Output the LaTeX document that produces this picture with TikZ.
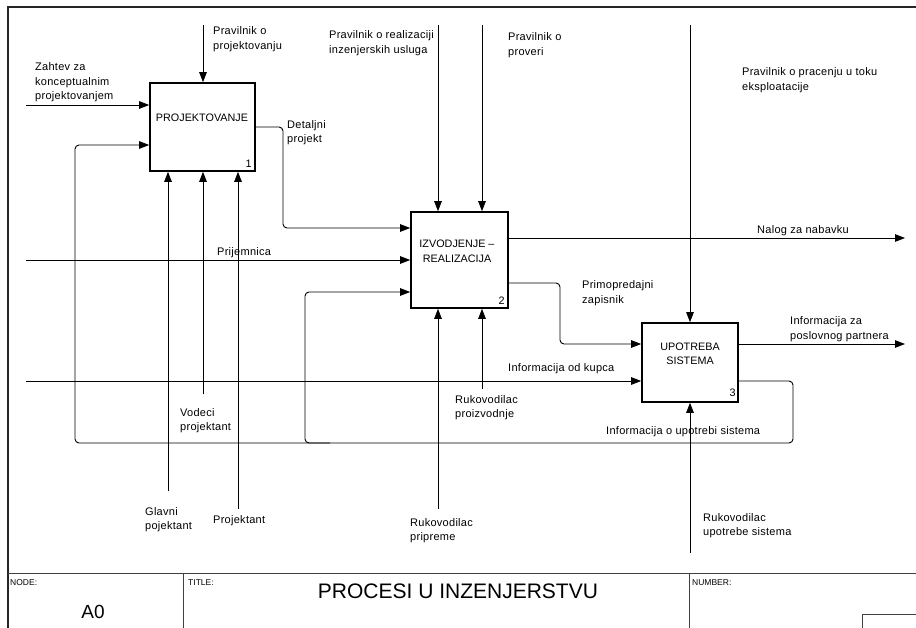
\documentclass[tikz,border=0pt]{standalone}
\usepackage{fontspec}
\setmainfont{Liberation Sans}
\newfontfamily\labelfont[LetterSpace=2.5]{Liberation Sans}
\usetikzlibrary{arrows.meta}
\begin{document}
\begin{tikzpicture}[x=1pt,y=-1pt,
  flow/.style={line width=0.9pt, rounded corners=4pt},
  inarrow/.style={flow, -{Triangle[length=10pt,width=7.5pt]}},
  actbox/.style={draw, line width=1.6pt, inner sep=0pt},
  lbl/.style={font=\labelfont\fontsize{11}{14.5}\selectfont, align=left, anchor=base west, inner sep=0pt},
  boxtext/.style={font=\fontsize{10.8}{14.5}\selectfont, align=center, inner sep=0pt},
  boxnum/.style={font=\fontsize{10.8}{12}\selectfont, anchor=south east, inner sep=0pt},
  frameline/.style={line width=1.2pt, black!85},
  blockline/.style={line width=0.9pt, black!75},
  fieldname/.style={font=\fontsize{8.5}{10}\selectfont, anchor=base west, inner sep=0pt}
]
\useasboundingbox (0,0) rectangle (916,628);

% drawing frame and title block
\draw[frameline] (8,628) -- (8,7) -- (916,7);
\draw[blockline] (8,573) -- (916,573);
\draw[blockline] (183,573) -- (183,628);
\draw[blockline] (689,573) -- (689,628);
\draw[blockline] (862,628) -- (862,614) -- (916,614);
\node[fieldname] (nodelbl) at (10,585) {NODE:};
\node[fieldname] (titlelbl) at (188,585) {TITLE:};
\node[fieldname] (numberlbl) at (692,585) {NUMBER:};
\node[font=\fontsize{19}{20}\selectfont, inner sep=0pt] (nodeid) at (93,612) {A0};
\node[font=\fontsize{21}{22}\selectfont, inner sep=0pt] (title) at (458,591) {PROCESI U INZENJERSTVU};

% activity boxes
\node[actbox, minimum width=105pt, minimum height=88pt] (p1) at (202.5,127) {};
\node[actbox, minimum width=97pt, minimum height=96pt] (p2) at (459.5,260) {};
\node[actbox, minimum width=96pt, minimum height=79pt] (p3) at (690,362.5) {};

\node[boxtext] (t1) at (202,118) {PROJEKTOVANJE};
\node[boxtext] (t2) at (457,251.5) {IZVODJENJE –\\REALIZACIJA};
\node[boxtext] (t3) at (690,354) {UPOTREBA\\SISTEMA};
\node[boxnum] (n1) at ([shift={(-4,-4)}]p1.south east) {1};
\node[boxnum] (n2) at ([shift={(-4,-4)}]p2.south east) {2};
\node[boxnum] (n3) at ([shift={(-3,-6)}]p3.south east) {3};

% free ends of the arrows
\coordinate (zahtev) at (26,105);
\coordinate (prijem) at (26,260);
\coordinate (kupac) at (26,381);
\coordinate (ctlProj) at (203,25);
\coordinate (ctlReal) at (438,25);
\coordinate (ctlProv) at (482,25);
\coordinate (ctlPrac) at (690,25);
\coordinate (mGlavni) at (168,491);
\coordinate (mVodeci) at (203,394);
\coordinate (mProj) at (238,509);
\coordinate (mPrip) at (438,509);
\coordinate (mProiz) at (482,389);
\coordinate (mUpot) at (690,553);
\coordinate (nalog) at (905,238);
\coordinate (partner) at (905,344);

% bend points
\coordinate (d1) at (283,127);
\coordinate (d2) at (283,228);
\coordinate (pz1) at (560,283);
\coordinate (pz2) at (560,344);
\coordinate (fb1) at (793,381);
\coordinate (fb2) at (793,443);
\coordinate (fb3) at (75,443);
\coordinate (fb4) at (75,145);
\coordinate (fb5) at (305,443);
\coordinate (fb6) at (305,292);

% inputs
\draw[inarrow] (zahtev) -- (zahtev -| p1.west);
\draw[inarrow] (prijem) -- (prijem -| p2.west);
\draw[inarrow] (kupac) -- (kupac -| p3.west);

% controls
\draw[inarrow] (ctlProj) -- (ctlProj |- p1.north);
\draw[inarrow] (ctlReal) -- (ctlReal |- p2.north);
\draw[inarrow] (ctlProv) -- (ctlProv |- p2.north);
\draw[inarrow] (ctlPrac) -- (ctlPrac |- p3.north);

% mechanisms
\draw[inarrow] (mGlavni) -- (mGlavni |- p1.south);
\draw[inarrow] (mVodeci) -- (mVodeci |- p1.south);
\draw[inarrow] (mProj) -- (mProj |- p1.south);
\draw[inarrow] (mPrip) -- (mPrip |- p2.south);
\draw[inarrow] (mProiz) -- (mProiz |- p2.south);
\draw[inarrow] (mUpot) -- (mUpot |- p3.south);

% outputs
\draw[inarrow] (d1 -| p1.east) -- (d1) -- (d2) -- (d2 -| p2.west);
\draw[inarrow] (pz1 -| p2.east) -- (pz1) -- (pz2) -- (pz2 -| p3.west);
\draw[inarrow] (nalog -| p2.east) -- (nalog);
\draw[inarrow] (partner -| p3.east) -- (partner);

% feedback of usage information
\draw[inarrow] (fb1 -| p3.east) -- (fb1) -- (fb2) -- (fb3) -- (fb4) -- (fb4 -| p1.west);
\draw[inarrow] ([xshift=25pt]fb5) -- (fb5) -- (fb6) -- (fb6 -| p2.west);

% arrow labels (placed at the baseline of their last line)
\node[lbl] (lZahtev) at (35,100) {Zahtev za\\konceptualnim\\projektovanjem};
\node[lbl] (lProj) at (213,49.5) {Pravilnik o\\projektovanju};
\node[lbl] (lDet) at (287,143) {Detaljni\\projekt};
\node[lbl] (lVod) at (180,430.5) {Vodeci\\projektant};
\node[lbl] (lGlav) at (145,529.5) {Glavni\\pojektant};
\node[lbl] (lPrt) at (213,523) {Projektant};
\node[lbl] (lPrij) at (217,256) {Prijemnica};
\node[lbl] (lReal) at (329,53.5) {Pravilnik o realizaciji\\inzenjerskih usluga};
\node[lbl] (lProv) at (508,55.5) {Pravilnik o\\proveri};
\node[lbl] (lProiz) at (455,417.5) {Rukovodilac\\proizvodnje};
\node[lbl] (lPrip) at (410,540.5) {Rukovodilac\\pripreme};
\node[lbl] (lNal) at (757,234) {Nalog za nabavku};
\node[lbl] (lPrim) at (582,303.5) {Primopredajni\\zapisnik};
\node[lbl] (lKup) at (508,371) {Informacija od kupca};
\node[lbl] (lPrac) at (742,90.5) {Pravilnik o pracenju u toku\\eksploatacije};
\node[lbl] (lPart) at (790,339.5) {Informacija za\\poslovnog partnera};
\node[lbl] (lUpo) at (606,434) {Informacija o upotrebi sistema};
\node[lbl] (lRuk) at (703,535.5) {Rukovodilac\\upotrebe sistema};
\end{tikzpicture}
\end{document}
